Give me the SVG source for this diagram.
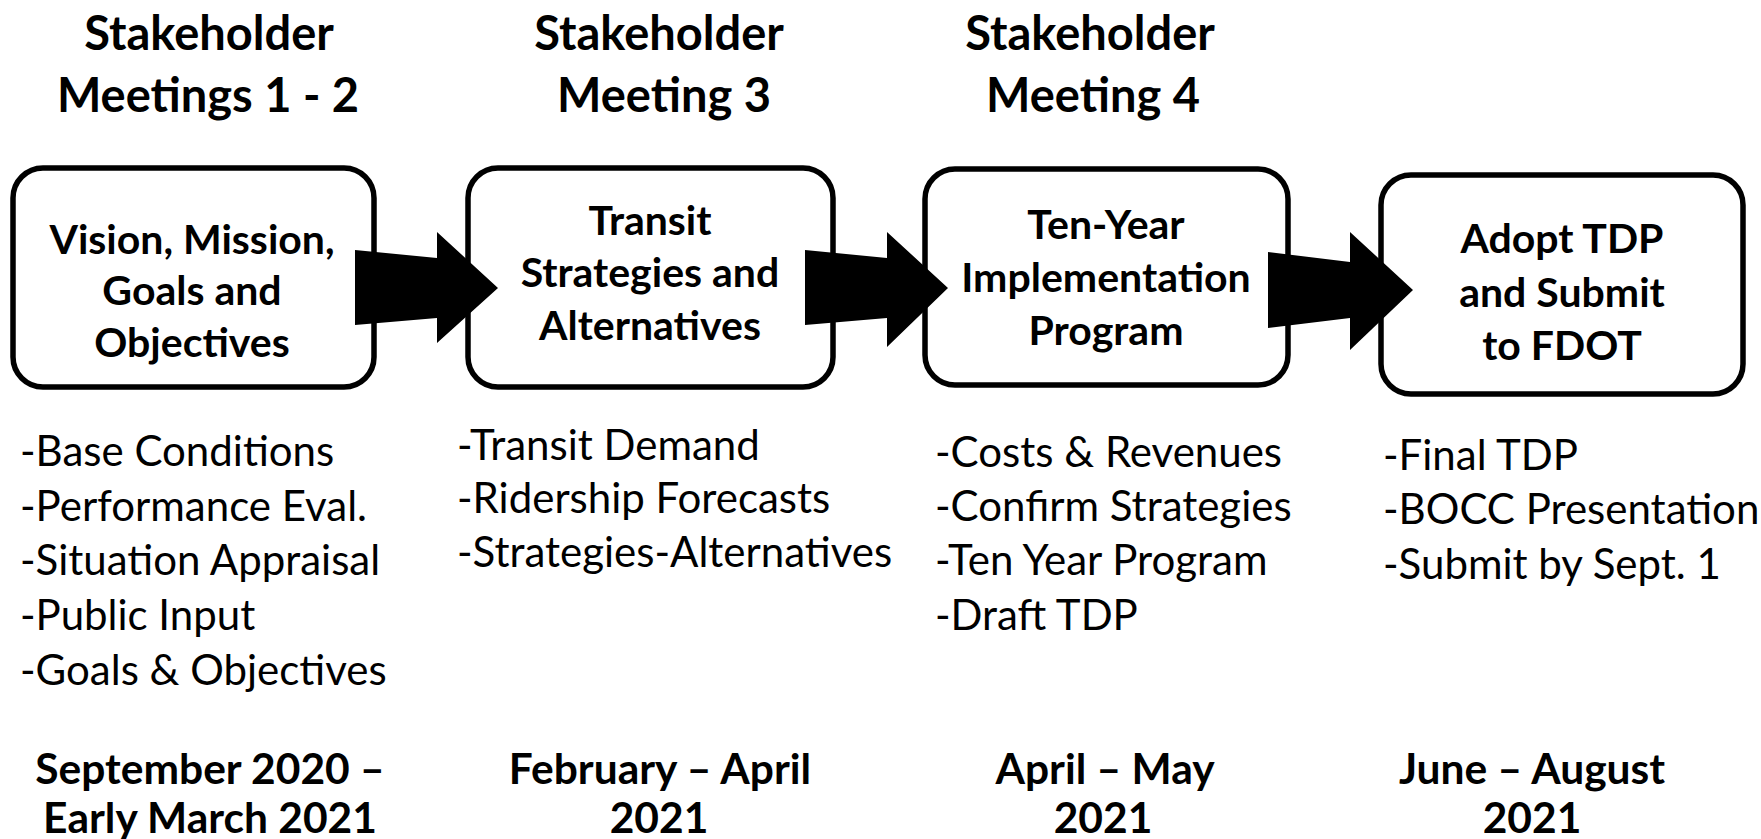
<svg xmlns="http://www.w3.org/2000/svg" width="1761" height="839" viewBox="0 0 1761 839">
<style>
.hd{font-family:Lato,"Liberation Sans",sans-serif;font-weight:700;font-size:47px;fill:#000;text-anchor:middle}
.dt{font-family:Lato,"Liberation Sans",sans-serif;font-weight:700;font-size:42.5px;fill:#000;text-anchor:middle}
.bx{fill:#fff;stroke:#000;stroke-width:5.5}
.bt{font-family:Lato,"Liberation Sans",sans-serif;font-weight:700;font-size:41px;fill:#000;text-anchor:middle}
.it{font-family:Lato,"Liberation Sans",sans-serif;font-weight:400;font-size:42px;fill:#000}
.ar{fill:#000}
</style>
<rect width="1761" height="839" fill="#fff"/>
<g id="headers">
<text class="hd" x="209" y="50">Stakeholder</text>
<text class="hd" x="208" y="112">Meetings 1 - 2</text>
<text class="hd" x="659" y="50">Stakeholder</text>
<text class="hd" x="664" y="112">Meeting 3</text>
<text class="hd" x="1090" y="50">Stakeholder</text>
<text class="hd" x="1093" y="112">Meeting 4</text>
</g>
<g id="node1">
<rect class="bx" x="13" y="168" width="361" height="219" rx="30"/>
<text class="bt" x="192" y="254">Vision, Mission,</text>
<text class="bt" x="192" y="305">Goals and</text>
<text class="bt" x="192" y="357">Objectives</text>
</g>
<g id="node2">
<rect class="bx" x="468" y="168" width="365" height="219" rx="30"/>
<text class="bt" x="650" y="235">Transit</text>
<text class="bt" x="650" y="287">Strategies and</text>
<text class="bt" x="650" y="340">Alternatives</text>
</g>
<g id="node3">
<rect class="bx" x="925" y="169" width="363" height="216" rx="30"/>
<text class="bt" x="1106" y="239">Ten-Year</text>
<text class="bt" x="1106" y="292">Implementation</text>
<text class="bt" x="1106" y="345">Program</text>
</g>
<g id="node4">
<rect class="bx" x="1381" y="175" width="362" height="219" rx="30"/>
<text class="bt" x="1562" y="253">Adopt TDP</text>
<text class="bt" x="1562" y="307">and Submit</text>
<text class="bt" x="1562" y="360">to FDOT</text>
</g>
<g id="connectors">
<polygon class="ar" points="355,250 437,258 437,232 498,288 437,343 437,318 355,325"/>
<polygon class="ar" points="805,250 887,258 887,232 948,288 887,347 887,318 805,325"/>
<polygon class="ar" points="1268,252 1350,262 1350,232 1413,290 1350,350 1350,318 1268,328"/>
</g>
<g id="list1">
<text class="it" x="20" y="466">-Base Conditions</text>
<text class="it" x="20" y="521">-Performance Eval.</text>
<text class="it" x="20" y="575">-Situation Appraisal</text>
<text class="it" x="20" y="630">-Public Input</text>
<text class="it" x="20" y="685">-Goals &amp; Objectives</text>
</g>
<g id="list2">
<text class="it" x="457" y="460">-Transit Demand</text>
<text class="it" x="457" y="513">-Ridership Forecasts</text>
<text class="it" x="457" y="567">-Strategies-Alternatives</text>
</g>
<g id="list3">
<text class="it" x="935" y="467">-Costs &amp; Revenues</text>
<text class="it" x="935" y="521">-Confirm Strategies</text>
<text class="it" x="935" y="575">-Ten Year Program</text>
<text class="it" x="935" y="630">-Draft TDP</text>
</g>
<g id="list4">
<text class="it" x="1383" y="470">-Final TDP</text>
<text class="it" x="1383" y="524">-BOCC Presentation</text>
<text class="it" x="1383" y="579">-Submit by Sept. 1</text>
</g>
<g id="dates">
<text class="dt" x="210" y="784">September 2020 –</text>
<text class="dt" x="210" y="833">Early March 2021</text>
<text class="dt" x="660" y="784">February – April</text>
<text class="dt" x="659" y="833">2021</text>
<text class="dt" x="1105" y="784">April – May</text>
<text class="dt" x="1103" y="833">2021</text>
<text class="dt" x="1532" y="784">June – August</text>
<text class="dt" x="1532" y="833">2021</text>
</g>
</svg>
